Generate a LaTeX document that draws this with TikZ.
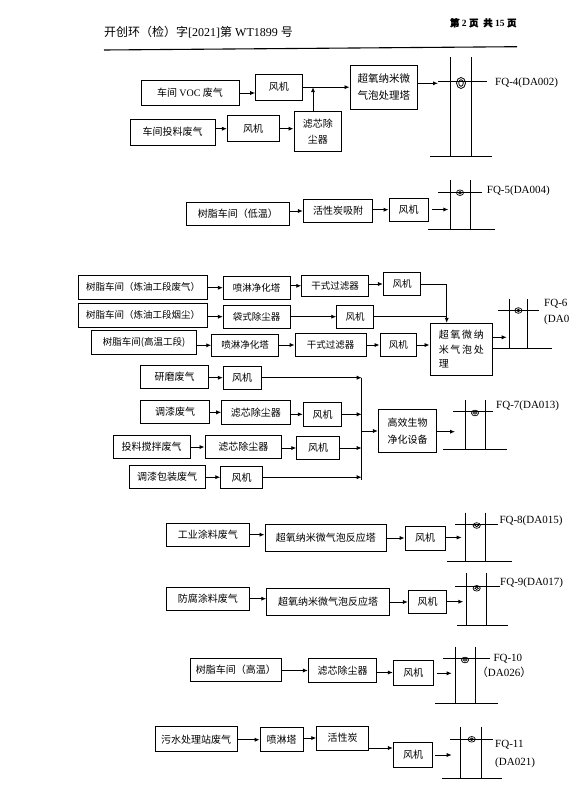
\documentclass[tikz,border=0pt]{standalone}
\usepackage{fontspec}
\setmainfont{Liberation Serif}
\newfontfamily\cjk{Noto Sans CJK SC}
\newfontfamily\cjkb[FakeBold=2]{Noto Sans CJK SC}
\usetikzlibrary{arrows.meta}
\tikzset{
 ln/.style={line width=0.9pt},
 bx/.style={draw,line width=0.9pt,inner sep=0pt,align=center,font=\cjk\fontsize{10}{16.7}\selectfont},
 bs/.style={bx,font=\cjk\fontsize{9.5}{12}\selectfont},
 sz/.style 2 args={minimum width=#1pt,minimum height=#2pt},
 arr/.style={ln,-{Latex[length=5pt,width=4.2pt]}},
 lab/.style={anchor=west,inner sep=0pt,font=\fontsize{11}{13}\selectfont},
}
\newcommand\stk[9]{\draw[ln] (#1,#3) -- (#1,#4) (#2,#3) -- (#2,#4) (#6,#5) -- (#7,#5) (#8,#4) -- (#9,#4);}
\newcommand\ring[2]{\draw[line width=0.7pt] (#1,#2) ellipse [x radius=3.6,y radius=2.8] (#1,#2) ellipse [x radius=1.8,y radius=1.2];}
\begin{document}
\begin{tikzpicture}[x=1pt,y=-1pt]
\useasboundingbox (0,0) rectangle (583,789);
\fill[white] (0,0) rectangle (583,789);
% header
\node[anchor=west,inner sep=0pt,font=\fontsize{12}{14}\selectfont] (hd) at (104,31.7) {{\cjk 开创环（检）字}[2021]{\cjk 第} WT1899 {\cjk 号}};
\node[anchor=east,inner sep=0pt,font=\bfseries\fontsize{9.5}{12}\selectfont] (pg) at (516.7,22.7) {{\cjkb 第}\ 2\ {\cjkb 页}\ \ {\cjkb 共}\ 15\ {\cjkb 页}};
\draw[line width=1.1pt] (104,50) -- (517,46.7);
% section 1
\node[bx,sz={98}{24.6}] (voc) at (190,93) {车间 {\rmfamily VOC} 废气};
\node[bx,sz={46.3}{25.7}] (f1) at (278.8,87.2) {风机};
\node[bx,sz={67.7}{44.3},font=\cjk\fontsize{10.5}{17}\selectfont] (cy1) at (383.8,87.2) {超氧纳米微\\气泡处理塔};
\node[bx,sz={85}{26}] (tl) at (172.5,132) {车间投料废气};
\node[bx,sz={51.7}{26}] (f2) at (253.2,128.7) {风机};
\node[bx,sz={47.7}{40}] (lx) at (317.8,131.7) {滤芯除\\尘器};
\coordinate (j1) at (313,87.2);
\coordinate (s4) at (438,83.3);
\draw[arr] (voc.east) -- (voc.east -| f1.west);
\draw[ln] (f1.east) -- (j1);
\draw[arr] (j1) -- (cy1.west);
\draw[arr] (lx.north -| j1) -- (j1);
\draw[arr] (tl.east |- f2.west) -- (f2.west);
\draw[arr] (f2.east) -- (f2.east -| lx.west);
\draw[arr] (cy1.east |- s4) -- (s4);
\stk{450}{471.7}{57.3}{156.7}{81.7}{438}{486.7}{430}{491.7}
\draw[line width=0.8pt] (461,83) ellipse [x radius=4.5,y radius=5.5] (461,83) ellipse [x radius=2.3,y radius=3.3];
\node[lab] (q4) at (495,83) {FQ-4(DA002)};
% section 2
\node[bx,sz={102.3}{22.7}] (dw) at (237.8,213.7) {树脂车间（低温）};
\node[bx,sz={69.4}{23.4}] (hx) at (338,211) {活性炭吸附};
\node[bx,sz={39.3}{22.7}] (f3) at (408.7,209.7) {风机};
\coordinate (s5) at (448.3,209.5);
\draw[arr] (dw.east |- hx.west) -- (hx.west);
\draw[arr] (hx.east |- f3.west) -- (f3.west);
\draw[arr,shorten <=3pt] (f3.east |- s5) -- (s5);
\stk{450}{470.7}{180}{229.3}{192.7}{438.3}{481.7}{428}{495}
\ring{460}{192.7}
\node[lab] (q5) at (486.7,190.7) {FQ-5(DA004)};
% section 3
\node[bs,sz={129.4}{24}] (a1) at (143,287) {树脂车间（炼油工段废气）};
\node[bs,sz={66.7}{23.3}] (a2) at (256.7,287.7) {喷淋净化塔};
\node[bs,sz={66.6}{21.7}] (a3) at (335,285.8) {干式过滤器};
\node[bs,sz={37.4}{23.4}] (a4) at (402,284) {风机};
\node[bs,sz={129.4}{24}] (b1) at (143,315.3) {树脂车间（炼油工段烟尘）};
\node[bs,sz={66.7}{23.3}] (b2) at (256.7,316.7) {袋式除尘器};
\node[bs,sz={36.6}{23.3}] (b3) at (355,316.7) {风机};
\node[bs,sz={105}{23.6}] (c1) at (144.2,342.5) {树脂车间(高温工段)};
\node[bs,sz={66.6}{22.7}] (c2) at (245,345.3) {喷淋净化塔};
\node[bs,sz={71}{23.4}] (c3) at (330.5,345) {干式过滤器};
\node[bs,sz={36.7}{23.4}] (c4) at (398.3,345) {风机};
\node[bx,sz={62.7}{51.7},align=left,font=\cjk\fontsize{10}{14.5}\selectfont] (p6) at (461.3,349.2) {超\,氧\,微\,纳\\米\,气\,泡\,处\\理};
\coordinate (jx) at (446.7,316.7);
\draw[arr] (a1.east |- a2.west) -- (a2.west);
\draw[arr] (a2.east |- a3.west) -- (a3.west);
\draw[arr] (a3.east |- a4.west) -- (a4.west);
\draw[arr] (a4.east) -| (p6.north -| jx);
\draw[arr] (b1.east |- b2.west) -- (b2.west);
\draw[arr] (b2.east |- b3.west) -- (b3.west);
\draw[ln] (b3.east) -- (b3.east -| jx);
\draw[arr] (c1.east |- c2.west) -- (c2.west);
\draw[arr] (c2.east |- c3.west) -- (c3.west);
\draw[arr] (c3.east |- c4.west) -- (c4.west);
\draw[arr] (c4.east) -- (c4.east -| p6.west);
\coordinate (s6) at (506.7,337.3);
\draw[arr] (p6.east |- s6) -- (s6);
\stk{509.3}{527.5}{299}{348.3}{310}{498.3}{539.3}{492.7}{551.7}
\ring{518.4}{310.5}
\node[lab] (q6a) at (544,303.3) {FQ-6};
\node[lab] (q6b) at (544,320) {(DA0};
% section 4
\node[bx,sz={67.6}{23.3}] (g1) at (174.5,376.7) {研磨废气};
\node[bx,sz={37.7}{23.3}] (g2) at (242.2,377.7) {风机};
\node[bx,sz={68.6}{23.3}] (t1) at (175,411.7) {调漆废气};
\node[bx,sz={68.3}{23.3}] (t2) at (255.8,412.3) {滤芯除尘器};
\node[bx,sz={38.4}{23.3}] (t3) at (322.5,414.3) {风机};
\node[bx,sz={76.7}{23.3}] (ja) at (151.7,446.7) {投料搅拌废气};
\node[bx,sz={76.7}{22.6}] (jb) at (243.3,447) {滤芯除尘器};
\node[bx,sz={42.6}{22.6}] (jc) at (318,448) {风机};
\node[bx,sz={75.7}{23.3}] (k1) at (167.2,476.7) {调漆包装废气};
\node[bx,sz={42}{22.3}] (k2) at (241.7,477.2) {风机};
\node[bx,sz={58.4}{43.4}] (bio) at (407.5,431) {高效生物\\净化设备};
\coordinate (m) at (361.7,431);
\coordinate (mb) at (361.7,480);
\draw[arr] (g1.east |- g2.west) -- (g2.west);
\draw[arr] (t1.east |- t2.west) -- (t2.west);
\draw[arr] (t2.east |- t3.west) -- (t3.west);
\draw[arr] (ja.east |- jb.west) -- (jb.west);
\draw[arr] (jb.east |- jc.west) -- (jc.west);
\draw[arr] (k1.east |- k2.west) -- (k2.west);
\draw[arr] (g2.east) -- (g2.east -| m);
\draw[arr] (t3.east) -- (t3.east -| m);
\draw[arr] (jc.east) -- (jc.east -| m);
\draw[arr] (k2.east) -- (k2.east -| m);
\draw[ln] (g2.east -| m) -- (mb);
\draw[arr] (m) -- (bio.west);
\coordinate (s7) at (455,431.7);
\draw[arr] (bio.east |- s7) -- (s7);
\stk{465}{485}{400}{449.3}{411.7}{453.3}{493.3}{443.3}{506.7}
\ring{475}{413}
\node[lab] (q7) at (496,405.7) {FQ-7(DA013)};
% section 5
\node[bx,sz={82.3}{22.7}] (w1) at (207.8,534.7) {工业涂料废气};
\node[bx,sz={121.7}{27.7}] (w2) at (325.8,537.8) {超氧纳米微气泡反应塔};
\node[bx,sz={40}{24}] (w3) at (425,538) {风机};
\coordinate (s8) at (461.7,537.5);
\draw[arr] (w1.east) -- (w1.east -| w2.west);
\draw[arr] (w2.east |- w3.west) -- (w3.west);
\draw[arr] (w3.east |- s8) -- (s8);
\stk{465}{485}{512.7}{561.7}{524}{455}{498.3}{446.7}{511.7}
\ring{476.7}{525.5}
\node[lab] (q8) at (499.3,520.7) {FQ-8(DA015)};
% section 6
\node[bx,sz={82.3}{22.7}] (x1) at (207.8,598.7) {防腐涂料废气};
\node[bx,sz={122.6}{26.7}] (x2) at (328,601.7) {超氧纳米微气泡反应塔};
\node[bx,sz={38.4}{22.6}] (x3) at (427.5,602) {风机};
\coordinate (s9) at (463.3,601.7);
\draw[arr] (x1.east) -- (x1.east -| x2.west);
\draw[arr] (x2.east |- x3.west) -- (x3.west);
\draw[arr] (x3.east |- s9) -- (s9);
\stk{466}{486.7}{573.3}{625}{586.7}{455}{500}{457.3}{508.3}
\ring{476.7}{588.3}
\node[lab] (q9) at (500,583.3) {FQ-9(DA017)};
% section 7
\node[bx,sz={91.7}{23.4}] (r1) at (235.8,670) {树脂车间（高温）};
\node[bx,sz={68.4}{24.4}] (r2) at (342.5,670.5) {滤芯除尘器};
\node[bx,sz={40}{25}] (r3) at (413.3,672.5) {风机};
\coordinate (s10) at (451.7,673.3);
\draw[arr] (r1.east |- r2.west) -- (r2.west);
\draw[arr] (r2.east |- r3.west) -- (r3.west);
\draw[arr,shorten <=3pt] (r3.east |- s10) -- (s10);
\stk{455}{475}{646.7}{703.3}{658.3}{443.3}{490}{435}{498.3}
\ring{465}{660}
\node[lab] (q10a) at (493.3,658.3) {FQ-10};
\node[lab] (q10b) at (476.7,672.7) {{\cjk （}DA026{\cjk ）}};
% section 8
\node[bx,sz={82.3}{25}] (u1) at (196.2,739.2) {污水处理站废气};
\node[bx,sz={43.3}{24}] (u2) at (281.7,739.7) {喷淋塔};
\node[bx,sz={51.6}{24}] (u3) at (342.5,738) {活性炭};
\node[bx,sz={39.4}{25}] (u4) at (413,754.8) {风机};
\coordinate (u3o) at ([yshift=-10pt]u3.east);
\coordinate (s11) at (451.7,755);
\draw[arr] (u1.east |- u2.west) -- (u2.west);
\draw[arr] (u2.east |- u3.west) -- (u3.west);
\draw[arr] (u3o) -- (u3o -| u4.west);
\draw[arr,shorten <=2pt] (u4.east |- s11) -- (s11);
\stk{460}{481.7}{726.7}{778.3}{739}{450}{493.3}{441.7}{501.7}
\ring{471.7}{739.3}
\node[lab] (q11a) at (495,745) {FQ-11};
\node[lab] (q11b) at (495,763.3) {(DA021)};
\end{tikzpicture}
\end{document}
